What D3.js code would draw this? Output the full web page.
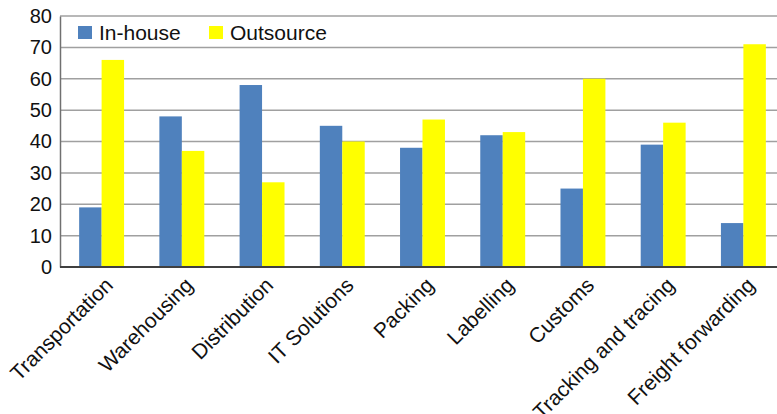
<!DOCTYPE html>
<html><head><meta charset="utf-8">
<script src="https://cdn.jsdelivr.net/npm/d3@7"></script>
<style>body{margin:0;background:#fff}svg{display:block}text{font-family:"Liberation Sans",Arial,sans-serif;fill:#111}</style>
</head><body><svg id="c" width="777" height="414"></svg>
<script>
const categories = ["Transportation","Warehousing","Distribution","IT Solutions","Packing","Labelling","Customs","Tracking and tracing","Freight forwarding"];
const inHouse   = [19,48,58,45,38,42,25,39,14];
const outsource = [66,37,27,40,47,43,60,46,71];
const seriesNames = ["In-house","Outsource"];
const colors = ["#4f81bd","#ffff00"];
const yTicks = [0,10,20,30,40,50,60,70,80];

const svg = d3.select("#c");
const mLeft = 60, mRight = 777, mTop = 16, mBottom = 267;
const x0 = d3.scaleBand().domain(categories).range([61.5, 783.5]).paddingInner(0.44).paddingOuter(0.22);
const x1 = d3.scaleBand().domain(seriesNames).range([0, x0.bandwidth()]);
const y = d3.scaleLinear().domain([0,80]).range([mBottom, mTop]);

// gridlines
svg.append("g").selectAll("line").data(yTicks.filter(d=>d>0)).join("line")
  .attr("x1", mLeft).attr("x2", mRight).attr("y1", d=>y(d)).attr("y2", d=>y(d))
  .attr("stroke","#a0a0a0").attr("stroke-width",1.5);

// y axis
const yAxis = d3.axisLeft(y).tickValues(yTicks).tickSize(0).tickPadding(8);
const ga = svg.append("g").attr("transform",`translate(${mLeft},0)`).call(yAxis);
ga.select(".domain").attr("stroke","#707070").attr("stroke-width",1.5);
ga.selectAll("text").style("font-size","20px").attr("fill","#111").style("font-family",'"Liberation Sans",Arial,sans-serif');

// bars
const data = categories.map((c,i)=>({c, vals:[inHouse[i], outsource[i]]}));
const g = svg.append("g").selectAll("g").data(data).join("g").attr("transform", d=>`translate(${x0(d.c)},0)`);
g.selectAll("rect").data(d=>d.vals.map((v,j)=>({name:seriesNames[j], v, j}))).join("rect")
  .attr("x", d=>x1(d.name)).attr("width", x1.bandwidth())
  .attr("y", d=>y(d.v)).attr("height", d=>y(0)-y(d.v))
  .attr("fill", d=>colors[d.j]);

// x axis line
svg.append("line").attr("x1",mLeft).attr("x2",mRight).attr("y1",mBottom).attr("y2",mBottom)
  .attr("stroke","#404040").attr("stroke-width",2);

// x labels
svg.append("g").selectAll("text").data(categories).join("text")
  .attr("transform", d=>`translate(${x0(d)+x0.bandwidth()/2+2},${mBottom+9}) rotate(-45)`)
  .attr("text-anchor","end").attr("dy","0.71em").style("font-size","21px").text(d=>d);

// legend
const leg = svg.append("g");
const lx = [78, 209];
seriesNames.forEach((n,i)=>{
  leg.append("rect").attr("x",lx[i]).attr("y",26).attr("width",14).attr("height",13).attr("fill",colors[i]);
  leg.append("text").attr("x",lx[i]+21).attr("y",39.5).style("font-size","21px").text(n);
});
</script></body></html>
